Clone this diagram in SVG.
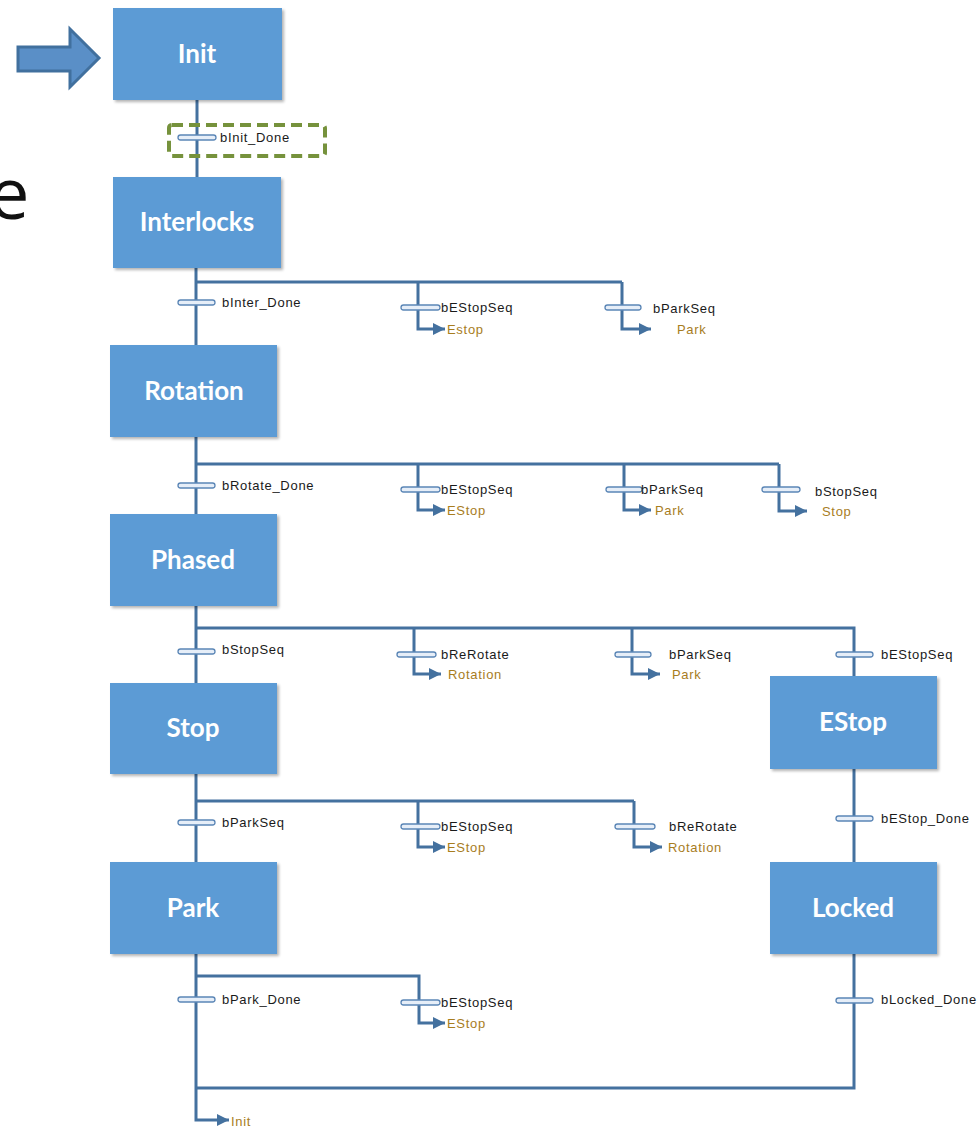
<svg xmlns="http://www.w3.org/2000/svg" width="980" height="1133" viewBox="0 0 980 1133">
  <defs>
    <marker id="head" viewBox="0 0 10 10" refX="10" refY="5" markerWidth="13" markerHeight="12" markerUnits="userSpaceOnUse" orient="auto">
      <path d="M0,0 L10,5 L0,10 z" fill="#44719f"/>
    </marker>
    <filter id="shadow" x="-10%" y="-10%" width="130%" height="130%">
      <feGaussianBlur in="SourceAlpha" stdDeviation="1.5"/>
      <feOffset dx="1.5" dy="1.5" result="b"/>
      <feComponentTransfer><feFuncA type="linear" slope="0.3"/></feComponentTransfer>
      <feMerge><feMergeNode/><feMergeNode in="SourceGraphic"/></feMerge>
    </filter>
  </defs>
  <style>
    .box { fill: #5b9bd5; filter: url(#shadow); }
    .title { font-family: Lato, "Liberation Sans", sans-serif; font-weight: bold; font-size: 26px; fill: #ffffff; text-anchor: middle; }
    .wire { fill: none; stroke: #44719f; stroke-width: 3; }
    .jump { fill: none; stroke: #44719f; stroke-width: 3; marker-end: url(#head); }
    .bar { fill: #e6eef8; stroke: #5b86b6; stroke-width: 1.3; }
    .cond { font-family: "Liberation Sans", sans-serif; font-size: 13px; letter-spacing: 0.7px; fill: #1a1a1a; }
    .dest { font-family: "Liberation Sans", sans-serif; font-size: 13px; letter-spacing: 0.7px; fill: #a87d1e; }
  </style>

  <!-- entry arrow and partial heading letter -->
  <polygon points="18,47 70,47 70,29 99,58 70,87 70,71 18,71" fill="#5a8fc7" stroke="#41709e" stroke-width="3"/>
  <text x="-11" y="219" font-family="'Open Sans', sans-serif" font-size="72" fill="#111">e</text>

  <!-- connectors -->
  <g id="connectors">
    <!-- main trunk -->
    <path class="wire" d="M197 100 V177"/>
    <path class="wire" d="M196 268 V345"/>
    <path class="wire" d="M196 437 V514"/>
    <path class="wire" d="M196 606 V683"/>
    <path class="wire" d="M196 774 V862"/>
    <path class="jump" d="M196 954 V1120 H229"/>

    <!-- Interlocks branches -->
    <path class="wire" d="M196 282 H622"/>
    <path class="jump" d="M418 282 V329 H445"/>
    <path class="jump" d="M622 282 V329 H651"/>

    <!-- Rotation branches -->
    <path class="wire" d="M196 464 H779"/>
    <path class="jump" d="M418 464 V510 H445"/>
    <path class="jump" d="M624 464 V510 H651"/>
    <path class="jump" d="M779 464 V511 H807"/>

    <!-- Phased branches -->
    <path class="wire" d="M196 628 H854 V676"/>
    <path class="jump" d="M414 628 V674 H441"/>
    <path class="jump" d="M632 628 V674 H660"/>

    <!-- Stop branches -->
    <path class="wire" d="M196 801 H634"/>
    <path class="jump" d="M418 801 V847 H445"/>
    <path class="jump" d="M634 801 V847 H662"/>

    <!-- EStop / Locked chain -->
    <path class="wire" d="M854 769 V862"/>
    <path class="wire" d="M854 954 V1088 H196"/>

    <!-- Park branches -->
    <path class="jump" d="M196 976 H419 V1023 H445"/>

    <!-- transition bars -->
    <rect class="bar" x="178" y="135" width="38" height="5" rx="2.5"/>
    <rect class="bar" x="178" y="300" width="37" height="5" rx="2.5"/>
    <rect class="bar" x="401" y="305" width="39" height="5" rx="2.5"/>
    <rect class="bar" x="605" y="305" width="36" height="5" rx="2.5"/>
    <rect class="bar" x="178" y="483" width="37" height="5" rx="2.5"/>
    <rect class="bar" x="401" y="487" width="39" height="5" rx="2.5"/>
    <rect class="bar" x="606" y="487" width="36" height="5" rx="2.5"/>
    <rect class="bar" x="762" y="487" width="38" height="5" rx="2.5"/>
    <rect class="bar" x="178" y="649" width="37" height="5" rx="2.5"/>
    <rect class="bar" x="397" y="652" width="39" height="5" rx="2.5"/>
    <rect class="bar" x="615" y="652" width="36" height="5" rx="2.5"/>
    <rect class="bar" x="836" y="652" width="37" height="5" rx="2.5"/>
    <rect class="bar" x="178" y="820" width="37" height="5" rx="2.5"/>
    <rect class="bar" x="401" y="824" width="39" height="5" rx="2.5"/>
    <rect class="bar" x="615" y="824" width="40" height="5" rx="2.5"/>
    <rect class="bar" x="836" y="816" width="37" height="5" rx="2.5"/>
    <rect class="bar" x="178" y="997" width="37" height="5" rx="2.5"/>
    <rect class="bar" x="401" y="1000" width="39" height="5" rx="2.5"/>
    <rect class="bar" x="836" y="998" width="37" height="5" rx="2.5"/>

    <!-- transition conditions -->
    <text class="cond" x="220" y="142">bInit_Done</text>
    <text class="cond" x="222" y="307">bInter_Done</text>
    <text class="cond" x="441" y="312">bEStopSeq</text>
    <text class="cond" x="653" y="313">bParkSeq</text>
    <text class="cond" x="222" y="490">bRotate_Done</text>
    <text class="cond" x="441" y="494">bEStopSeq</text>
    <text class="cond" x="641" y="494">bParkSeq</text>
    <text class="cond" x="815" y="496">bStopSeq</text>
    <text class="cond" x="222" y="654">bStopSeq</text>
    <text class="cond" x="441" y="659">bReRotate</text>
    <text class="cond" x="669" y="659">bParkSeq</text>
    <text class="cond" x="881" y="659">bEStopSeq</text>
    <text class="cond" x="222" y="827">bParkSeq</text>
    <text class="cond" x="441" y="831">bEStopSeq</text>
    <text class="cond" x="669" y="831">bReRotate</text>
    <text class="cond" x="881" y="823">bEStop_Done</text>
    <text class="cond" x="222" y="1004">bPark_Done</text>
    <text class="cond" x="441" y="1007">bEStopSeq</text>
    <text class="cond" x="881" y="1004">bLocked_Done</text>

    <!-- jump targets -->
    <text class="dest" x="447" y="334">Estop</text>
    <text class="dest" x="677" y="334">Park</text>
    <text class="dest" x="447" y="515">EStop</text>
    <text class="dest" x="655" y="515">Park</text>
    <text class="dest" x="822" y="516">Stop</text>
    <text class="dest" x="448" y="679">Rotation</text>
    <text class="dest" x="672" y="679">Park</text>
    <text class="dest" x="447" y="852">EStop</text>
    <text class="dest" x="668" y="852">Rotation</text>
    <text class="dest" x="447" y="1028">EStop</text>
    <text class="dest" x="231" y="1126">Init</text>
  </g>

  <!-- highlighted first transition -->
  <rect x="169" y="125" width="156" height="31" rx="3" fill="none" stroke="#76923c" stroke-width="4" stroke-dasharray="11 6"/>

  <!-- steps -->
  <g id="step-init"><rect class="box" x="113" y="8" width="169" height="92"/><text class="title" x="197" y="63">Init</text></g>
  <g id="step-interlocks"><rect class="box" x="113" y="177" width="168" height="91"/><text class="title" x="197" y="231">Interlocks</text></g>
  <g id="step-rotation"><rect class="box" x="110" y="345" width="167" height="92"/><text class="title" x="194" y="400">Rotation</text></g>
  <g id="step-phased"><rect class="box" x="110" y="514" width="167" height="92"/><text class="title" x="193" y="569">Phased</text></g>
  <g id="step-stop"><rect class="box" x="110" y="683" width="167" height="91"/><text class="title" x="193" y="737">Stop</text></g>
  <g id="step-park"><rect class="box" x="110" y="862" width="167" height="92"/><text class="title" x="193" y="917">Park</text></g>
  <g id="step-estop"><rect class="box" x="770" y="676" width="167" height="93"/><text class="title" x="853" y="731">EStop</text></g>
  <g id="step-locked"><rect class="box" x="770" y="862" width="167" height="92"/><text class="title" x="853" y="917">Locked</text></g>
</svg>
